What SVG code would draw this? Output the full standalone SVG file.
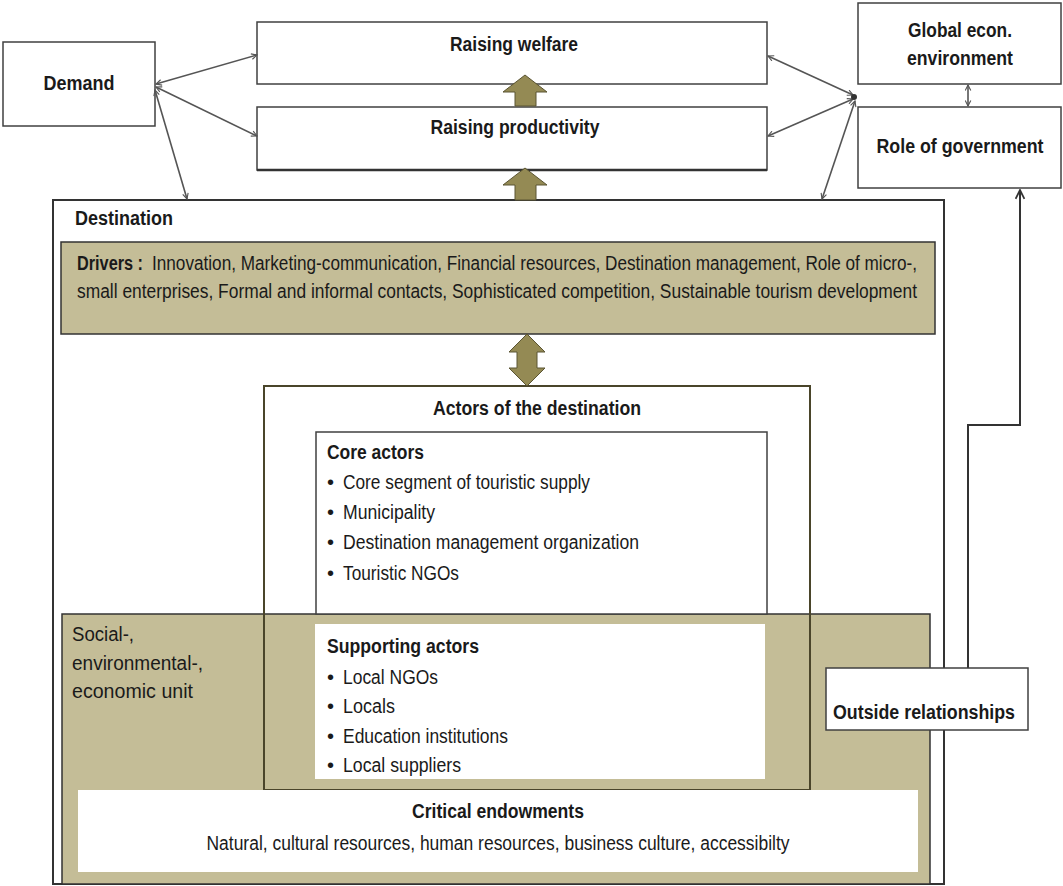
<svg xmlns="http://www.w3.org/2000/svg" width="1063" height="886" viewBox="0 0 1063 886">
<defs>
<style>
.t{font-family:"Liberation Sans Narrow","Liberation Sans",Arial,sans-serif;font-size:20px;fill:#1a1a1a}
.b{font-weight:bold}
.box{fill:#fff;stroke:#404040;stroke-width:1.5}
.tan{fill:#C4BD97}
.conn{fill:none;stroke:#555;stroke-width:1.6}
.khaki{fill:#948A54;stroke:#5a5432;stroke-width:1}
</style>
<marker id="ah" viewBox="0 0 10 10" refX="9" refY="5" markerWidth="7" markerHeight="7" orient="auto-start-reverse" markerUnits="userSpaceOnUse">
<path d="M1,1 L9,5 L1,9" fill="none" stroke="#555" stroke-width="1.6"/>
</marker>
<marker id="ah2" viewBox="0 0 10 10" refX="9" refY="5" markerWidth="11" markerHeight="11" orient="auto-start-reverse" markerUnits="userSpaceOnUse">
<path d="M1,1 L9,5 L1,9" fill="none" stroke="#333" stroke-width="1.6"/>
</marker>
</defs>
<rect width="1063" height="886" fill="#fff"/>

<g id="destination">
<rect x="53" y="200" width="891" height="684" fill="#fff" stroke="#333" stroke-width="2"/>
<text class="t b" x="75" y="225" textLength="98" lengthAdjust="spacingAndGlyphs">Destination</text>
</g>

<g id="drivers">
<rect x="61" y="242" width="874" height="92" class="tan" stroke="#333" stroke-width="1.5"/>
<text class="t b" x="77" y="270" textLength="66" lengthAdjust="spacingAndGlyphs">Drivers :</text>
<text class="t" x="152" y="270" textLength="765" lengthAdjust="spacingAndGlyphs">Innovation, Marketing-communication, Financial resources, Destination management, Role of micro-,</text>
<text class="t" x="77" y="298" textLength="840" lengthAdjust="spacingAndGlyphs">small enterprises, Formal and informal contacts, Sophisticated competition, Sustainable tourism development</text>
</g>

<g id="actors">
<rect x="264" y="386" width="546" height="404" fill="#fff" stroke="none"/>
</g>

<g id="social-unit">
<rect x="62" y="614" width="868" height="270" class="tan" stroke="#333" stroke-width="1.5"/>
<text class="t" x="72" y="641" textLength="62" lengthAdjust="spacingAndGlyphs">Social-,</text>
<text class="t" x="72" y="670" textLength="131" lengthAdjust="spacingAndGlyphs">environmental-,</text>
<text class="t" x="72" y="698" textLength="121" lengthAdjust="spacingAndGlyphs">economic unit</text>
</g>

<g id="actors-frame">
<rect x="264" y="386" width="546" height="404" fill="none" stroke="#4a452a" stroke-width="2"/>
<text class="t b" x="537" y="415" text-anchor="middle" textLength="208" lengthAdjust="spacingAndGlyphs">Actors of the destination</text>
</g>

<g id="core-actors">
<rect x="316" y="432" width="451" height="182" class="box" stroke="#666"/>
<text class="t b" x="327" y="459" textLength="97" lengthAdjust="spacingAndGlyphs">Core actors</text>
<g class="t" font-size="19">
<text x="327" y="489">•</text>
<text x="343" y="489" textLength="247" lengthAdjust="spacingAndGlyphs">Core segment of touristic supply</text>
<text x="327" y="519">•</text>
<text x="343" y="519" textLength="92" lengthAdjust="spacingAndGlyphs">Municipality</text>
<text x="327" y="549">•</text>
<text x="343" y="549" textLength="296" lengthAdjust="spacingAndGlyphs">Destination management organization</text>
<text x="327" y="580">•</text>
<text x="343" y="580" textLength="116" lengthAdjust="spacingAndGlyphs">Touristic NGOs</text>
</g>
</g>

<g id="supporting-actors">
<rect x="315" y="624" width="450" height="155" fill="#fff"/>
<text class="t b" x="327" y="653" textLength="152" lengthAdjust="spacingAndGlyphs">Supporting actors</text>
<g class="t" font-size="19">
<text x="327" y="684">•</text>
<text x="343" y="684" textLength="95" lengthAdjust="spacingAndGlyphs">Local NGOs</text>
<text x="327" y="713">•</text>
<text x="343" y="713" textLength="52" lengthAdjust="spacingAndGlyphs">Locals</text>
<text x="327" y="743">•</text>
<text x="343" y="743" textLength="165" lengthAdjust="spacingAndGlyphs">Education institutions</text>
<text x="327" y="772">•</text>
<text x="343" y="772" textLength="118" lengthAdjust="spacingAndGlyphs">Local suppliers</text>
</g>
</g>

<g id="critical-endowments">
<rect x="78" y="790" width="840" height="82" fill="#fff"/>
<text class="t b" x="498" y="818" text-anchor="middle" textLength="172" lengthAdjust="spacingAndGlyphs">Critical endowments</text>
<text class="t" x="498" y="850" text-anchor="middle" textLength="583" lengthAdjust="spacingAndGlyphs">Natural, cultural resources, human resources, business culture, accessibilty</text>
</g>

<g id="demand">
<rect x="3" y="42" width="152" height="84" class="box"/>
<text class="t b" x="79" y="90" text-anchor="middle" textLength="71" lengthAdjust="spacingAndGlyphs">Demand</text>
</g>

<g id="raising-welfare">
<rect x="257" y="22" width="510" height="62" class="box"/>
<text class="t b" x="514" y="51" text-anchor="middle" textLength="128" lengthAdjust="spacingAndGlyphs">Raising welfare</text>
</g>

<g id="raising-productivity">
<rect x="257" y="107" width="510" height="63" class="box"/>
<line x1="257" y1="170" x2="767" y2="170" stroke="#333" stroke-width="2.5"/>
<text class="t b" x="515" y="134" text-anchor="middle" textLength="169" lengthAdjust="spacingAndGlyphs">Raising productivity</text>
</g>

<g id="global-econ">
<rect x="858" y="3" width="203" height="81" class="box"/>
<text class="t b" x="960" y="37" text-anchor="middle" textLength="104" lengthAdjust="spacingAndGlyphs">Global econ.</text>
<text class="t b" x="960" y="65" text-anchor="middle" textLength="106" lengthAdjust="spacingAndGlyphs">environment</text>
</g>

<g id="role-of-government">
<rect x="858" y="107" width="203" height="81" class="box"/>
<text class="t b" x="960" y="153" text-anchor="middle" textLength="167" lengthAdjust="spacingAndGlyphs">Role of government</text>
</g>

<g id="connectors">
<line class="conn" x1="156" y1="84" x2="257" y2="55" marker-start="url(#ah)" marker-end="url(#ah)"/>
<line class="conn" x1="156" y1="87" x2="257" y2="136" marker-start="url(#ah)" marker-end="url(#ah)"/>
<line class="conn" x1="155" y1="90" x2="187" y2="199" marker-start="url(#ah)" marker-end="url(#ah)"/>
<line class="conn" x1="853" y1="95" x2="768" y2="56" marker-start="url(#ah)" marker-end="url(#ah)"/>
<line class="conn" x1="853" y1="99" x2="768" y2="136" marker-start="url(#ah)" marker-end="url(#ah)"/>
<line class="conn" x1="855" y1="101" x2="822" y2="199" marker-start="url(#ah)" marker-end="url(#ah)"/>
<circle cx="854" cy="97" r="3" fill="#333"/>
<line class="conn" x1="968" y1="85" x2="968" y2="106" marker-start="url(#ah)" marker-end="url(#ah)"/>
<polyline fill="none" stroke="#333" stroke-width="2" points="968,668 968,425 1020,425 1020,190" marker-end="url(#ah2)"/>
<polygon class="khaki" points="515,106 536,106 536,92 547,92 525,75 503,92 515,92"/>
<polygon class="khaki" points="515,200 536,200 536,185 547,185 525,168 503,185 515,185"/>
<polygon class="khaki" points="527,334 545,352 537,352 537,368 545,368 527,386 509,368 517,368 517,352 509,352"/>
</g>

<g id="outside-relationships">
<rect x="826" y="668" width="202" height="62" class="box"/>
<text class="t b" x="924" y="719" text-anchor="middle" textLength="182" lengthAdjust="spacingAndGlyphs">Outside relationships</text>
</g>
</svg>
